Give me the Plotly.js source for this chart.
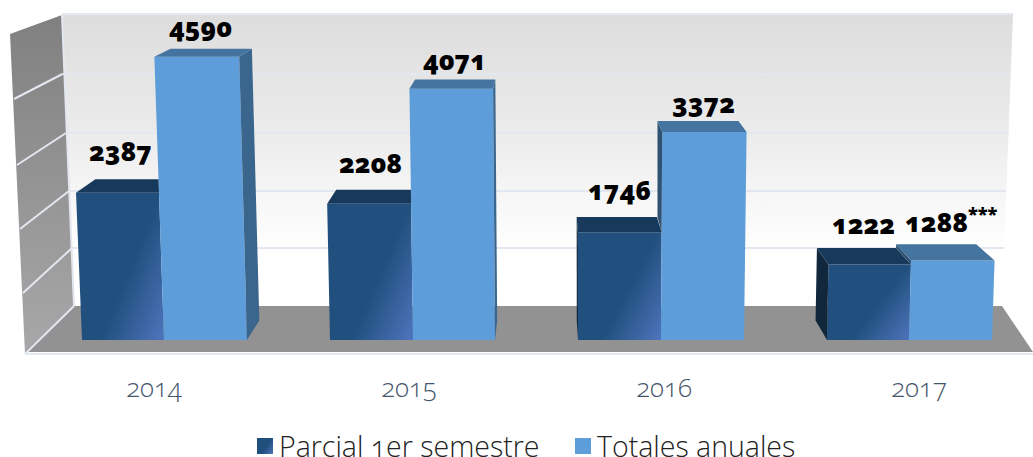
<!DOCTYPE html>
<html>
<head>
<meta charset="utf-8">
<script src="https://cdn.plot.ly/plotly-3.0.1.min.js"></script>
<style>
html,body{margin:0;padding:0;background:#fff;overflow:hidden}
#chart{width:1033px;height:457px}
text{font-feature-settings:"onum" 1;}
</style>
</head>
<body>
<div id="chart"></div>
<script>
// ---- data ----
const years = ['2014','2015','2016','2017'];
const parcial = [2387,2208,1746,1222];
const totales = [4590,4071,3372,1288];
const seriesNames = ['Parcial 1er semestre','Totales anuales'];
const labelSuffix = ['','','','<sup>***</sup>'];

// ---- view geometry of the 3-D look ----
const W=1033,H=457,FLOOR=340,S=0.0617;      // floor in px, px per unit
const TICK0=154,TICKSTEP=255;               // category spacing on the axis
const splitPx=[164,413,661,909];            // where the two bars of a group meet
const darkW=[82,83,83,82], lightW=[83,82,83,83];
const VP={x:548,y:-138,c:0.041};            // depth vanishing point
const skewC=590,skewH=12500;                // vertical convergence
const val=px=>(FLOOR-px)/S;
const front=(x,v)=>{const h=v*S;return {x:x+(x-skewC)/skewH*h,y:FLOOR-h};};
const back=p=>({x:p.x+(VP.x-p.x)*VP.c,y:p.y+(VP.y-p.y)*VP.c});

function poly(pts,color){
  return {type:'scatter',xaxis:'x2',yaxis:'y',mode:'lines',fill:'toself',fillcolor:color,
    line:{width:0,color:color},x:pts.map(p=>p.x).concat(pts[0].x),y:pts.map(p=>val(p.y)).concat(val(pts[0].y)),
    hoverinfo:'skip',showlegend:false};
}
const faces=[];
years.forEach((_,i)=>{
  const l=splitPx[i]-darkW[i], m=splitPx[i], r=m+lightW[i];
  const dv=parcial[i], lv=totales[i];
  const dFL=front(l,dv), dFR=front(m,dv), lFL=front(m,lv), lFR=front(r,lv);
  const dBL=back(dFL), dBR=back(dFR), lBL=back(lFL), lBR=back(lFR);
  // light bar left side, where it shows above the dark bar
  if(lBL.x<lFL.x) faces.push(poly([lFL,lBL,{x:lBL.x,y:dBR.y},dFR],'#2f5272'));
  // dark bar left side
  if(dBL.x<dFL.x){const f0=front(l,0);faces.push(poly([dFL,dBL,back(f0),f0],'#10273c'));}
  // dark bar top, stopping at the light bar
  const edge=m+(m-skewC)/skewH*(FLOOR-dBR.y);
  faces.push(poly([dFL,dBL,{x:Math.min(dBR.x,edge),y:dBR.y},dFR],'#17395b'));
  // light bar right side
  if(lBR.x>lFR.x){const f0=front(r,0);faces.push(poly([lFR,lBR,back(f0),f0],'#3a658c'));}
  // light bar top
  faces.push(poly([lFL,lBL,lBR,lFR],'#44749f'));
});

const traces=[
 {type:'bar',name:seriesNames[0],x:years,y:parcial,marker:{color:'#21507e',line:{width:0}},
  width:darkW.map(w=>w/TICKSTEP),
  offset:years.map((_,i)=>(splitPx[i]-darkW[i]-(TICK0+i*TICKSTEP))/TICKSTEP)},
 {type:'bar',name:seriesNames[1],x:years,y:totales,marker:{color:'#5d9dd9',line:{width:0}},
  width:lightW.map(w=>w/TICKSTEP),
  offset:years.map((_,i)=>(splitPx[i]-(TICK0+i*TICKSTEP))/TICKSTEP)},
 ...faces
];

// walls, floor and grid lines
const pathOf=a=>'M'+a.map(p=>p[0]+','+val(p[1])).join('L')+'Z';
const shp=(a,fill)=>({type:'path',layer:'below',xref:'x2',yref:'y',path:pathOf(a),fillcolor:fill,line:{width:0}});
const ln=(a,b)=>({type:'line',layer:'below',xref:'x2',yref:'y',x0:a[0],y0:val(a[1]),x1:b[0],y1:val(b[1]),line:{color:'#e3e7f0',width:2}});
const wallY=[74,133,191,248];
const wallL=[62.5,66,69,72], wallR=[1011,1009,1006,1004], sideX=[14,17,20,23], sideY=[99,165,229,293];
const shapes=[
  shp([[62,14],[1013,14],[1002,306],[74,306]],'#eeeeee'),
  shp([[10,34],[62,15],[74,306],[25,354]],'#909090'),
  shp([[74,306],[1002,306],[1033,352],[25,352]],'#929292'),
  ln([62,14],[1013,14]),
  ln([25,354],[1033,354]),
  ln([74,306],[25,354]),
  ln([62,15],[74,306]),
  ...wallY.map((y,i)=>ln([wallL[i],y],[wallR[i],y])),
  ...wallY.map((y,i)=>ln([wallL[i],y],[sideX[i],sideY[i]]))
];

// value labels
const labelFont={family:'"Open Sans","Noto Sans",sans-serif',size:26,color:'#000',weight:800};
const dLabX=[120,370,619,863], lLabX=[200,454,703,951];
const dLabShift=[42,41,42,41], lLabShift=[30,29,29,40];
const ann=[];
years.forEach((_,i)=>{
  ann.push({xref:'x2',yref:'y',x:dLabX[i],y:parcial[i],yshift:dLabShift[i],text:String(parcial[i]),showarrow:false,font:labelFont});
  ann.push({xref:'x2',yref:'y',x:lLabX[i],y:totales[i],yshift:lLabShift[i],text:totales[i]+labelSuffix[i],showarrow:false,font:labelFont});
});

const layout={
 width:W,height:H,margin:{l:0,r:0,t:0,b:0},paper_bgcolor:'#fff',plot_bgcolor:'rgba(0,0,0,0)',
 barmode:'overlay',
 xaxis:{type:'category',categoryorder:'array',categoryarray:years,range:[-TICK0/TICKSTEP,(W-TICK0)/TICKSTEP],
   anchor:'free',position:(H-370)/H,showgrid:false,zeroline:false,showline:false,ticks:'',automargin:false,
   tickfont:{family:'"Open Sans","Noto Sans",sans-serif',size:26,color:'#44546a',weight:300}},
 xaxis2:{overlaying:'x',range:[0,W],visible:false,anchor:'y'},
 yaxis:{range:[val(H),val(0)],visible:false,fixedrange:true},
 showlegend:true,
 legend:{orientation:'h',x:239/W,xanchor:'left',y:0,yanchor:'bottom',borderwidth:0,bgcolor:'rgba(0,0,0,0)',
   font:{family:'"Open Sans","Lato",sans-serif',size:28.5,color:'#222',weight:300},tracegroupgap:0},
 shapes:shapes,annotations:ann
};

const gd=document.getElementById('chart');
Plotly.newPlot(gd,traces,layout,{displayModeBar:false,staticPlot:true}).then(()=>{
  const svg=gd.querySelector('.main-svg');
  let defs=svg.querySelector('defs');
  const NS='http://www.w3.org/2000/svg';
  const grad=(id,attrs,stops)=>{
    const g=document.createElementNS(NS,'linearGradient');g.setAttribute('id',id);
    for(const k in attrs)g.setAttribute(k,attrs[k]);
    stops.forEach(s=>{const e=document.createElementNS(NS,'stop');e.setAttribute('offset',s[0]);e.setAttribute('stop-color',s[1]);g.appendChild(e);});
    defs.appendChild(g);
  };
  grad('wallGrad',{x1:0,y1:0,x2:0,y2:1},[[0,'#dddddd'],[0.4,'#ebebeb'],[0.62,'#f6f6f6'],[0.82,'#ffffff'],[1,'#ffffff']]);
  grad('sideGrad',{x1:0,y1:0,x2:0,y2:1},[[0,'#808080'],[1,'#a8a8a8']]);
  grad('darkGrad',{x1:0.35,y1:0.55,x2:1,y2:1},[[0,'#21507e'],[0.25,'#21507e'],[1,'#4f75bd']]);
  const sh=gd.querySelectorAll('.shapelayer path[data-index="0"], .shapelayer path[data-index="1"]');
  sh.forEach(p=>{p.style.fill='url(#'+(p.getAttribute('data-index')==='0'?'wallGrad':'sideGrad')+')';});
  // converge the front faces of the bars towards the view
  const tr=gd.querySelectorAll('.barlayer .trace.bars');
  tr.forEach((t,ti)=>{
    t.querySelectorAll('.point path').forEach(p=>{
      const n=(p.getAttribute('d')||'').match(/-?\d+(\.\d+)?/g);
      if(!n||n.length<4)return;
      const [x0,y0,y1,x1]=n.map(Number);
      const yb=Math.max(y0,y1), yt=Math.min(y0,y1), h=yb-yt;
      const off=x=>x+(x-skewC)/skewH*h;
      p.setAttribute('d','M'+x0+','+yb+'L'+off(x0)+','+yt+'L'+off(x1)+','+yt+'L'+x1+','+yb+'Z');
      if(ti===0)p.style.fill='url(#darkGrad)';
    });
  });
  // legend: larger keys and the spacing of the reference
  gd.querySelectorAll('.legend .legendpoints path').forEach((p,i)=>{
    p.setAttribute('d','M8,8H-8V-8H8Z');
    p.removeAttribute('transform');
    if(i===0)p.style.fill='url(#darkGrad)';
  });
  const items=gd.querySelectorAll('.legend .traces');
  items.forEach((it,i)=>{
    const m=(it.getAttribute('transform')||'').match(/translate\(([-\d.]+),\s*([-\d.]+)\)/);
    const y=m?m[2]:0;
    it.setAttribute('transform','translate('+(i*318)+','+y+')');
    const pts=it.querySelector('.legendpoints');
    if(pts)pts.setAttribute('transform','translate(26,0)');
  });
  // the legend sits against the bottom edge of the page, as in the reference
  gd.querySelectorAll('.legend .scrollbox').forEach(s=>s.removeAttribute('clip-path'));
  const lg=gd.querySelector('.legend');
  const m=(lg.getAttribute('transform')||'').match(/translate\(([-\d.]+),\s*([-\d.]+)\)/);
  if(m)lg.setAttribute('transform','translate('+m[1]+','+(parseFloat(m[2])+15)+')');
});
</script>
</body>
</html>
